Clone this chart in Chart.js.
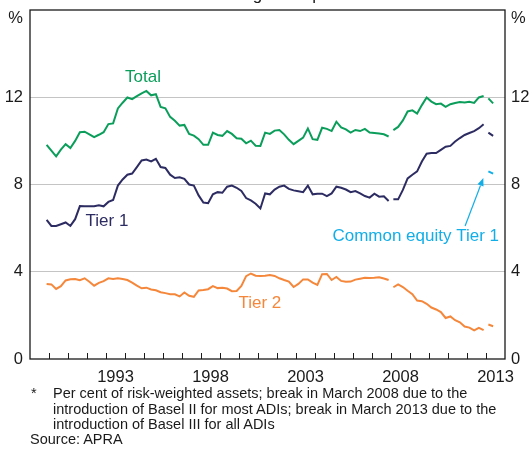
<!DOCTYPE html>
<html><head><meta charset="utf-8">
<script src="https://cdn.jsdelivr.net/npm/chart.js@4.4.0/dist/chart.umd.min.js"></script>
<style>
html,body{margin:0;padding:0;background:#fff;}
#wrap{position:relative;width:529px;height:450px;overflow:hidden;}
canvas{position:absolute;left:0;top:0;}
.fn{position:absolute;font-family:"Liberation Sans",Arial,sans-serif;font-size:14.5px;color:#1a1a1a;line-height:15.5px;white-space:nowrap;}
</style></head><body>
<div id="wrap"><canvas id="c" width="529" height="450"></canvas>
<div class="fn" style="left:31px;top:386px;">*</div>
<div class="fn" style="left:53px;top:386px;">Per cent of risk-weighted assets; break in March 2008 due to the<br>introduction of Basel II for most ADIs; break in March 2013 due to the<br>introduction of Basel III for all ADIs</div>
<div class="fn" style="left:30px;top:432px;">Source: APRA</div>
</div>
<script>
// ---- data (quarterly, per cent of risk-weighted assets) ----
const startPre = 1989.875;   // Dec 1989
const startPost = 2008.125;  // Mar 2008
const start2013 = 2013.125;  // Mar 2013
const breakPoints = [2008.0, 2013.0];

const totalPre = [9.82,9.55,9.29,9.6,9.85,9.67,10.0,10.4,10.42,10.3,10.17,10.28,10.4,10.77,10.8,11.49,11.75,11.99,11.91,12.05,12.18,12.29,12.09,12.14,11.56,11.49,11.1,10.92,10.7,10.73,10.32,10.24,10.08,9.82,9.82,10.38,10.27,10.23,10.45,10.32,10.12,10.1,9.89,10.01,9.78,9.77,10.38,10.32,10.47,10.5,10.3,10.05,9.85,10.0,10.15,10.57,10.08,10.05,10.6,10.55,10.45,10.88,10.62,10.53,10.38,10.5,10.45,10.55,10.38,10.36,10.34,10.3,10.2];
const totalPost = [10.49,10.64,10.94,11.35,11.4,11.25,11.64,11.99,11.8,11.68,11.71,11.56,11.68,11.74,11.78,11.76,11.79,11.74,11.99,12.06];
const total2013 = [11.95,11.72];

const tier1Pre = [6.38,6.1,6.1,6.18,6.26,6.1,6.41,7.01,7.0,7.0,7.0,7.05,7.0,7.2,7.29,7.95,8.23,8.45,8.5,8.8,9.1,9.14,9.06,9.18,8.8,8.76,8.45,8.3,8.33,8.26,8.0,7.95,7.5,7.17,7.14,7.55,7.65,7.62,7.9,7.95,7.85,7.7,7.38,7.27,7.12,6.9,7.59,7.55,7.77,7.9,7.95,7.8,7.73,7.69,7.65,7.95,7.55,7.58,7.58,7.47,7.59,7.9,7.85,7.77,7.65,7.7,7.59,7.47,7.4,7.58,7.44,7.46,7.24];
const tier1Post = [7.32,7.32,7.75,8.28,8.45,8.6,9.05,9.41,9.44,9.44,9.59,9.73,9.77,9.97,10.13,10.27,10.36,10.45,10.58,10.76];
const tier12013 = [10.38,10.23];

const tier2Pre = [3.44,3.42,3.21,3.34,3.6,3.66,3.67,3.61,3.7,3.54,3.36,3.49,3.57,3.7,3.67,3.7,3.67,3.62,3.5,3.36,3.24,3.27,3.19,3.15,3.06,3.02,2.97,2.97,2.87,3.05,2.9,2.85,3.14,3.16,3.2,3.34,3.25,3.27,3.23,3.11,3.12,3.35,3.8,3.92,3.82,3.8,3.82,3.85,3.81,3.7,3.62,3.55,3.3,3.44,3.65,3.65,3.5,3.4,3.89,3.9,3.62,3.76,3.58,3.54,3.55,3.64,3.68,3.72,3.71,3.72,3.75,3.69,3.62];
const tier2Post = [3.29,3.42,3.3,3.13,2.97,2.68,2.65,2.53,2.36,2.27,2.15,1.88,1.95,1.78,1.68,1.49,1.44,1.31,1.43,1.32];
const tier22013 = [1.58,1.5];

const cet12013 = [8.6,8.5];

const xTickYears = [1993, 1998, 2003, 2008, 2013];
const xMinorYears = [1990,1991,1992,1993,1994,1995,1996,1997,1998,1999,2000,2001,2002,2003,2004,2005,2006,2007,2008,2009,2010,2011,2012,2013];
const yTicks = [0, 4, 8, 12];

const seriesNames = ['Total', 'Tier 1', 'Tier 2', 'Common equity Tier 1'];
const seriesColors = ['#0b9e5b', '#2d2c62', '#f5873b', '#12aee8'];

function seg(arr, start) { return arr.map((v, i) => ({ x: start + i * 0.25, y: v })); }
function build(pre, post, q13) {
  let pts = [];
  if (pre) pts = pts.concat(seg(pre, startPre));
  pts.push({ x: breakPoints[0], y: null });
  if (post) pts = pts.concat(seg(post, startPost));
  pts.push({ x: breakPoints[1], y: null });
  pts = pts.concat(seg(q13, start2013));
  return pts;
}

const FONT = "'Liberation Sans', Arial, sans-serif";
Chart.defaults.font.family = FONT;

const labelPos = [
  { x: 1994.95, y: 12.9 },
  { x: 1993.05, y: 6.3 },
  { x: 2001.1, y: 2.55 },
  { x: 2009.3, y: 5.62 }
];
const arrowFrom = { x: 2011.9, y: 6.1 };
const arrowTo = { x: 2012.86, y: 8.3 };

const deco = {
  id: 'deco',
  afterDatasetsDraw(chart) {
    const ctx = chart.ctx, a = chart.chartArea;
    const xs = chart.scales.x, ys = chart.scales.y;
    ctx.save();
    ctx.strokeStyle = '#1a1a1a';
    ctx.lineWidth = 1.3;
    ctx.strokeRect(a.left, a.top, a.right - a.left, a.bottom - a.top);
    ctx.lineWidth = 1;
    ctx.beginPath();
    xMinorYears.forEach(yr => {
      const px = Math.round(xs.getPixelForValue(yr)) + 0.5;
      ctx.moveTo(px, a.bottom);
      ctx.lineTo(px, a.bottom - 6);
    });
    ctx.stroke();
    ctx.fillStyle = '#1a1a1a';
    ctx.font = '16.5px ' + FONT;
    ctx.textBaseline = 'middle';
    ctx.textAlign = 'right';
    ctx.fillText('%', a.left - 7, a.top + 8);
    ctx.textAlign = 'left';
    ctx.fillText('%', a.right + 6, a.top + 8);
    ctx.font = '17px ' + FONT;
    ctx.textAlign = 'center';
    ctx.textBaseline = 'alphabetic';
    ctx.fillText('Consolidated global operations', 265.5, 0);
    ctx.textBaseline = 'middle';
    seriesNames.forEach((n, i) => {
      ctx.fillStyle = seriesColors[i];
      ctx.fillText(n, xs.getPixelForValue(labelPos[i].x), ys.getPixelForValue(labelPos[i].y));
    });
    const x1 = xs.getPixelForValue(arrowFrom.x), y1 = ys.getPixelForValue(arrowFrom.y);
    const x2 = xs.getPixelForValue(arrowTo.x), y2 = ys.getPixelForValue(arrowTo.y);
    ctx.strokeStyle = seriesColors[3];
    ctx.fillStyle = seriesColors[3];
    ctx.lineWidth = 1.2;
    const ang = Math.atan2(y2 - y1, x2 - x1);
    const hl = 8, hw = 3.2;
    const bx = x2 - hl * Math.cos(ang), by = y2 - hl * Math.sin(ang);
    ctx.beginPath(); ctx.moveTo(x1, y1); ctx.lineTo(bx, by); ctx.stroke();
    ctx.beginPath();
    ctx.moveTo(x2, y2);
    ctx.lineTo(bx + hw * Math.sin(ang), by - hw * Math.cos(ang));
    ctx.lineTo(bx - hw * Math.sin(ang), by + hw * Math.cos(ang));
    ctx.closePath(); ctx.fill();
    ctx.restore();
  }
};

const mk = (label, data, color) => ({
  label, data, borderColor: color, backgroundColor: color,
  borderWidth: 2, pointRadius: 0, tension: 0, spanGaps: false, fill: false
});

const fitY = w => s => { s.width = w; s.paddingTop = 0; s.paddingBottom = 0; };

new Chart(document.getElementById('c'), {
  type: 'line',
  data: {
    datasets: [
      mk('Tier 2', build(tier2Pre, tier2Post, tier22013), seriesColors[2]),
      mk('Tier 1', build(tier1Pre, tier1Post, tier12013), seriesColors[1]),
      mk('Total', build(totalPre, totalPost, total2013), seriesColors[0]),
      mk('Common equity Tier 1', build(null, null, cet12013), seriesColors[3])
    ]
  },
  options: {
    responsive: false, animation: false, devicePixelRatio: 1,
    layout: { padding: { top: 10, left: 0, right: 0, bottom: 0 } },
    plugins: { legend: { display: false }, tooltip: { enabled: false } },
    scales: {
      x: {
        type: 'linear', min: 1989, max: 2014,
        grid: { display: false, drawTicks: false }, border: { display: false },
        afterBuildTicks: s => { s.ticks = xTickYears.map(y => ({ value: y + 0.5 })); },
        afterFit: s => { s.height = 91; s.paddingLeft = 0; s.paddingRight = 0; },
        ticks: { autoSkip: false, maxRotation: 0, padding: 9, color: '#1a1a1a',
          font: { size: 16.5 }, callback: v => String(Math.floor(v)) }
      },
      y: {
        position: 'left', min: 0, max: 16,
        afterBuildTicks: s => { s.ticks = yTicks.map(v => ({ value: v })); },
        afterFit: fitY(30),
        grid: { color: c => (c.tick && c.tick.value === 0) ? 'rgba(0,0,0,0)' : '#c4c4c4', lineWidth: 1, drawTicks: false },
        border: { display: false },
        ticks: { padding: 7, color: '#1a1a1a', font: { size: 16.5 } }
      },
      y2: {
        position: 'right', min: 0, max: 16,
        afterBuildTicks: s => { s.ticks = yTicks.map(v => ({ value: v })); },
        afterFit: fitY(24),
        grid: { display: false, drawTicks: false },
        border: { display: false },
        ticks: { padding: 6, color: '#1a1a1a', font: { size: 16.5 } }
      }
    }
  },
  plugins: [deco]
});
</script>
</body></html>
